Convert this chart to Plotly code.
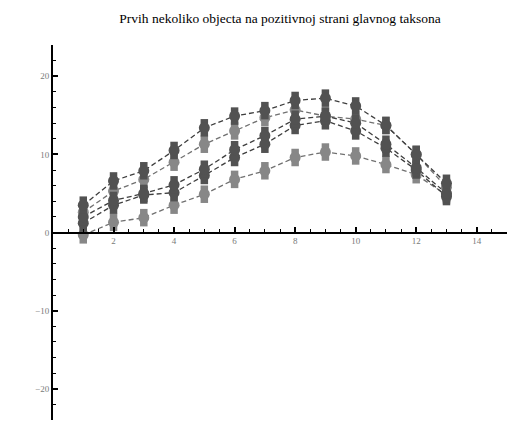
import plotly.graph_objects as go

x_vals = [1, 2, 3, 4, 5, 6, 7, 8, 9, 10, 11, 12, 13]

series_a = [3.5, 6.6, 7.9, 10.5, 13.4, 14.9, 15.6, 16.9, 17.2, 16.2, 13.7, 10.0, 6.3]
series_b = [2.6, 5.3, 6.8, 9.0, 11.3, 13.0, 14.7, 15.7, 14.9, 14.5, 13.7, 10.0, 5.8]
series_c = [2.0, 4.1, 5.0, 6.1, 8.1, 10.6, 12.4, 14.5, 14.9, 14.0, 11.3, 8.3, 5.0]
series_d = [1.2, 3.5, 4.8, 5.1, 7.3, 9.6, 11.3, 13.7, 14.3, 13.0, 10.8, 8.0, 4.6]
series_e = [-0.3, 1.3, 1.9, 3.5, 4.9, 6.8, 7.9, 9.6, 10.3, 9.8, 8.7, 7.4, 4.8]

x_ticks = [2, 4, 6, 8, 10, 12, 14]
y_ticks = [-20, -10, 0, 10, 20]

title_text = "Prvih nekoliko objecta na pozitivnoj strani glavnog taksona"

DARK = "#525252"
LIGHT = "#878787"
DARK_LINE = "#3e3e3e"
LIGHT_LINE = "#707070"

series_list = [
    (series_e, LIGHT, LIGHT_LINE),
    (series_b, LIGHT, LIGHT_LINE),
    (series_d, DARK, DARK_LINE),
    (series_c, DARK, DARK_LINE),
    (series_a, DARK, DARK_LINE),
]

fig = go.Figure()

for ys, mc, lc in series_list:
    fig.add_trace(go.Scatter(
        x=x_vals, y=ys, mode="lines",
        line=dict(color=lc, width=1.3, dash="5px,3px"),
        showlegend=False, hoverinfo="skip",
    ))

for ys, mc, lc in series_list:
    # elongated dot: vertical bar + circle
    fig.add_trace(go.Scatter(
        x=x_vals, y=ys, mode="markers",
        marker=dict(symbol="line-ns", size=12.5, color=mc,
                    line=dict(color=mc, width=7.5)),
        showlegend=False, hoverinfo="skip",
    ))
    fig.add_trace(go.Scatter(
        x=x_vals, y=ys, mode="markers",
        marker=dict(symbol="circle", size=11, color=mc, line=dict(width=0)),
        showlegend=False,
    ))

tick_font = dict(family="Liberation Serif, serif", size=9, color="#7a7a7a")

# page body has an 8px default margin; margins compensate for it
fig.update_layout(
    width=526, height=423,
    margin=dict(l=45, r=27, t=37, b=11, autoexpand=False),
    paper_bgcolor="white", plot_bgcolor="white",
    title=dict(text=title_text, x=0.5, xref="paper", y=1 - 10 / 423, yref="container",
               xanchor="center", yanchor="middle",
               font=dict(family="Liberation Serif, serif", size=13.5, color="black")),
    xaxis=dict(
        range=[0, 15], showgrid=False, zeroline=False, automargin=False,
        showline=True, linecolor="black", linewidth=2,
        anchor="free", position=0.5,
        tickvals=x_ticks, ticks="inside", ticklen=5, tickwidth=1.5, tickcolor="black",
        minor=dict(dtick=0.5, tick0=0, ticks="inside", ticklen=3, tickwidth=1, tickcolor="black"),
        tickfont=tick_font,
    ),
    yaxis=dict(
        range=[-24, 24], showgrid=False, zeroline=False, automargin=False,
        showline=True, linecolor="black", linewidth=2,
        tickvals=y_ticks, ticks="inside", ticklen=5, tickwidth=1.5, tickcolor="black",
        minor=dict(dtick=2, tick0=0, ticks="inside", ticklen=3, tickwidth=1, tickcolor="black"),
        tickfont=tick_font,
    ),
)

fig.write_html("out.html")
